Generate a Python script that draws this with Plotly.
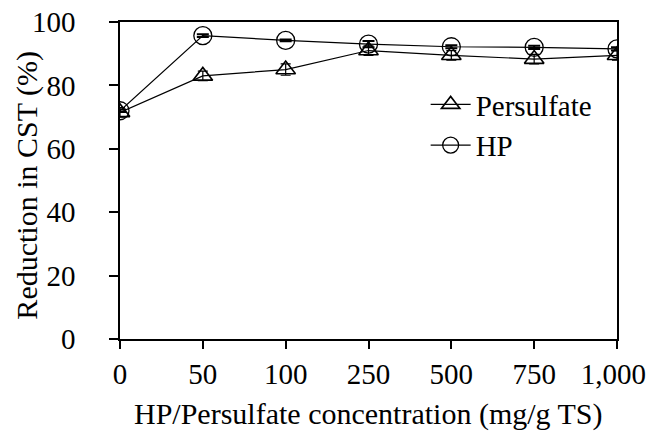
import plotly.graph_objects as go

categories = ["0", "50", "100", "250", "500", "750", "1000"]
tick_labels = ["0", "50", "100", "250", "500", "750", "1,000\u00a0"]
persulfate = [71.5, 83.0, 85.0, 91.0, 89.5, 88.3, 89.5]
persulfate_err = [1.5, 1.5, 1.8, 1.5, 1.5, 1.5, 1.5]
hp = [72.0, 95.7, 94.2, 93.0, 92.2, 92.0, 91.5]
hp_err = [0.4, 0.4, 0.3, 1.0, 0.5, 0.5, 0.5]

FONT = "Liberation Serif, Times New Roman, serif"

fig = go.Figure()
fig.add_trace(go.Scatter(
    x=categories, y=persulfate, name="Persulfate", mode="lines+markers",
    line=dict(color="black", width=1.2),
    marker=dict(symbol="triangle-up-open", size=17, color="black", line=dict(width=1.6)),
    error_y=dict(type="data", array=persulfate_err, color="black", thickness=1.2, width=5),
))
fig.add_trace(go.Scatter(
    x=categories, y=hp, name="HP", mode="lines+markers",
    line=dict(color="black", width=1.2),
    marker=dict(symbol="circle-open", size=18, color="black", line=dict(width=1.3)),
    error_y=dict(type="data", array=hp_err, color="black", thickness=2, width=6),
))

fig.update_layout(
    width=653, height=435,
    margin=dict(l=120, r=36, t=22, b=96),
    paper_bgcolor="white", plot_bgcolor="white",
    font=dict(family=FONT, size=29, color="black"),
    showlegend=True,
    legend=dict(x=0.615, y=0.82, xanchor="left", yanchor="top",
                bgcolor="rgba(0,0,0,0)", font=dict(size=29, family=FONT),
                itemwidth=40, tracegroupgap=0),
    xaxis=dict(
        type="category", range=[0, 6], automargin=False,
        tickmode="array", tickvals=categories, ticktext=tick_labels,
        ticklabeloverflow="allow",
        showline=True, linecolor="black", linewidth=1.5, mirror=True,
        ticks="outside", ticklen=8, tickwidth=1.5, tickcolor="black",
        showgrid=False, zeroline=False,
        tickfont=dict(size=29),
    ),
    yaxis=dict(
        range=[0, 100], dtick=20, automargin=False, ticklabeloverflow="allow",
        showline=True, linecolor="black", linewidth=1.5, mirror=True,
        ticks="outside", ticklen=9, tickwidth=1.5, tickcolor="black",
        showgrid=False, zeroline=False, ticklabelstandoff=28,
        tickfont=dict(size=29),
    ),
    annotations=[
        dict(text="HP/Persulfate concentration (mg/g TS)", xref="paper", yref="paper",
             x=0.5, y=-0.237, xanchor="center", yanchor="middle", showarrow=False,
             font=dict(size=30)),
        dict(text="Reduction in CST (%)", xref="paper", yref="paper",
             x=-0.187, y=0.484, xanchor="center", yanchor="middle", showarrow=False,
             textangle=-90, font=dict(size=30)),
    ],
)

fig.write_html("out.html", config={"displayModeBar": False},
               post_script="document.body.style.margin='0';")
